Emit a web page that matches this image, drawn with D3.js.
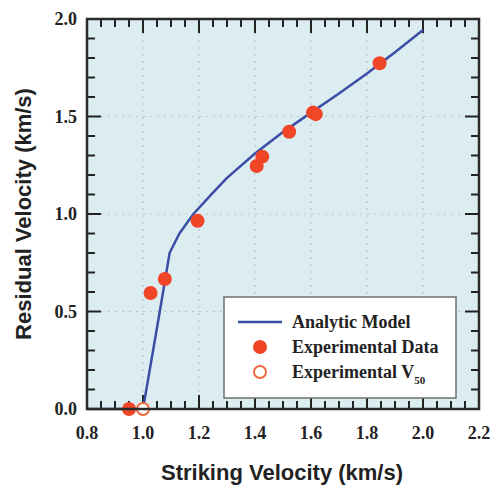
<!DOCTYPE html>
<html><head><meta charset="utf-8">
<script src="https://cdn.jsdelivr.net/npm/d3@7"></script>
<style>body{margin:0;background:#fff}svg{display:block}</style>
</head><body>
<script>
// Data
const modelX = [0.8, 1.0, 1.03, 1.06, 1.095, 1.13, 1.18, 1.25, 1.3, 1.4, 1.5, 1.6, 1.7, 1.8, 1.9, 2.0];
const modelY = [0, 0, 0.25, 0.5, 0.8, 0.9, 1.0, 1.11, 1.185, 1.31, 1.42, 1.52, 1.618, 1.72, 1.83, 1.944];
const expX = [0.95, 1.027, 1.078, 1.195, 1.406, 1.426, 1.522, 1.607, 1.617, 1.845];
const expY = [0, 0.595, 0.667, 0.965, 1.246, 1.294, 1.422, 1.52, 1.512, 1.773];
const v50X = [1.0];
const v50Y = [0];
const xTicks = [0.8, 1.0, 1.2, 1.4, 1.6, 1.8, 2.0, 2.2];
const yTicks = [0.0, 0.5, 1.0, 1.5, 2.0];
const legendLabels = ["Analytic Model", "Experimental Data", "Experimental V"];

const W = 490, H = 485;
const L = 87, R = 479, T = 19, B = 409;
const svg = d3.select("body").append("svg").attr("width", W).attr("height", H);
const x = d3.scaleLinear().domain([0.8, 2.2]).range([L, R]);
const y = d3.scaleLinear().domain([0, 2.0]).range([B, T]);

const RED = "#f04526", BLUE = "#3b4ea6", BG = "#dcedf2";
const serif = "'Liberation Serif','Times New Roman',serif";
const sans = "'Liberation Sans',Arial,sans-serif";

svg.append("rect").attr("x", L).attr("y", T).attr("width", R - L).attr("height", B - T).attr("fill", BG);

// grid
const g = svg.append("g");
g.selectAll(".vg").data(xTicks.filter(d => d > 0.81 && d < 2.19)).join("line")
  .attr("x1", d => x(d)).attr("x2", d => x(d)).attr("y1", T).attr("y2", B)
  .attr("stroke", "#b9c3c6").attr("stroke-width", 1.2).attr("stroke-dasharray", "2,5");
g.selectAll(".hg").data(yTicks.filter(d => d > 0.01 && d < 1.99)).join("line")
  .attr("y1", d => y(d)).attr("y2", d => y(d)).attr("x1", L).attr("x2", R)
  .attr("stroke", "#b9c3c6").attr("stroke-width", 1.2).attr("stroke-dasharray", "2,5");

// ticks on all four sides (inward)
const minorX = d3.range(0, 29).map(i => 0.8 + i * 0.05);
const minorY = d3.range(0, 21).map(i => i * 0.1);
const isMajX = v => xTicks.some(t => Math.abs(t - v) < 1e-6);
const isMajY = v => yTicks.some(t => Math.abs(t - v) < 1e-6);
const tk = svg.append("g").attr("stroke", "#222").attr("stroke-width", 2);
minorX.forEach(v => {
  const len = isMajX(v) ? 14 : 8;
  tk.append("line").attr("x1", x(v)).attr("x2", x(v)).attr("y1", B).attr("y2", B - len);
  tk.append("line").attr("x1", x(v)).attr("x2", x(v)).attr("y1", T).attr("y2", T + len);
});
minorY.forEach(v => {
  const len = isMajY(v) ? 14 : 8;
  tk.append("line").attr("y1", y(v)).attr("y2", y(v)).attr("x1", L).attr("x2", L + len);
  tk.append("line").attr("y1", y(v)).attr("y2", y(v)).attr("x1", R).attr("x2", R - len);
});

// model line
const line = d3.line().x(d => x(d[0])).y(d => y(d[1]));
svg.append("path").datum(modelX.map((v, i) => [v, modelY[i]]))
  .attr("d", line).attr("fill", "none").attr("stroke", BLUE).attr("stroke-width", 2.5)
  .attr("stroke-linejoin", "round");

// points
svg.selectAll(".exp").data(expX.map((v, i) => [v, expY[i]])).join("circle")
  .attr("cx", d => x(d[0])).attr("cy", d => y(d[1])).attr("r", 7).attr("fill", RED);
svg.selectAll(".v50").data(v50X.map((v, i) => [v, v50Y[i]])).join("circle")
  .attr("cx", d => x(d[0])).attr("cy", d => y(d[1])).attr("r", 6)
  .attr("fill", "#fff").attr("stroke", "#f06a3c").attr("stroke-width", 2);

// frame
svg.append("rect").attr("x", L).attr("y", T).attr("width", R - L).attr("height", B - T)
  .attr("fill", "none").attr("stroke", "#2a2a2a").attr("stroke-width", 2.5);

// tick labels
svg.selectAll(".xl").data(xTicks).join("text")
  .attr("x", d => x(d)).attr("y", 439).attr("text-anchor", "middle")
  .attr("font-family", serif).attr("font-weight", "bold").attr("font-size", 18).attr("fill", "#222")
  .text(d => d.toFixed(1));
svg.selectAll(".yl").data(yTicks).join("text")
  .attr("x", 77).attr("y", d => y(d)).attr("dy", "0.35em").attr("text-anchor", "end")
  .attr("font-family", serif).attr("font-weight", "bold").attr("font-size", 18).attr("fill", "#222")
  .text(d => d.toFixed(1));

// axis titles
svg.append("text").attr("x", (L + R) / 2 - 1).attr("y", 480).attr("text-anchor", "middle")
  .attr("font-family", sans).attr("font-weight", "bold").attr("font-size", 22).attr("fill", "#222")
  .text("Striking Velocity (km/s)");
svg.append("text").attr("transform", `translate(31,${(T + B) / 2}) rotate(-90)`).attr("text-anchor", "middle")
  .attr("font-family", sans).attr("font-weight", "bold").attr("font-size", 22).attr("fill", "#222")
  .text("Residual Velocity (km/s)");

// legend
const lg = svg.append("g");
lg.append("rect").attr("x", 224).attr("y", 297).attr("width", 232).attr("height", 101)
  .attr("fill", "#fff").attr("stroke", "#6e6e6e").attr("stroke-width", 1.5);
const rows = [322, 347, 372];
lg.append("line").attr("x1", 238).attr("x2", 282).attr("y1", rows[0]).attr("y2", rows[0])
  .attr("stroke", BLUE).attr("stroke-width", 2.5);
lg.append("circle").attr("cx", 260).attr("cy", rows[1]).attr("r", 7).attr("fill", RED);
lg.append("circle").attr("cx", 260).attr("cy", rows[2]).attr("r", 6).attr("fill", "#fff")
  .attr("stroke", "#f06a3c").attr("stroke-width", 2);
legendLabels.forEach((t, i) => {
  const tx = lg.append("text").attr("x", 292).attr("y", rows[i] + 6)
    .attr("font-family", serif).attr("font-weight", "bold").attr("font-size", 18).attr("fill", "#222")
    .text(t);
  if (i === 2) tx.append("tspan").attr("font-size", 11).attr("dy", 6).text("50");
});
</script>
</body></html>
